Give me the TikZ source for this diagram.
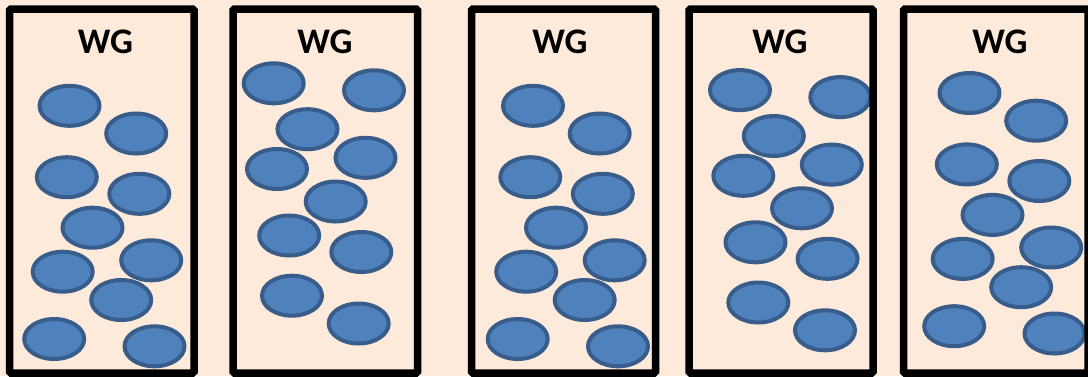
\documentclass[tikz,border=0pt]{standalone}
\usepackage{fontspec}
\setmainfont{Carlito}
\definecolor{bgpeach}{HTML}{FDEADA}
\definecolor{blobfill}{HTML}{4F81BD}
\definecolor{blobline}{HTML}{385D8A}
\begin{document}
\begin{tikzpicture}[x=1pt,y=-1pt,
  blob/.style={draw=blobline, fill=blobfill, line width=4pt},
  wgbox/.style={draw=black, line width=7.5pt, rounded corners=1.5pt},
  wglabel/.style={font=\bfseries\fontsize{36}{36}\selectfont, inner sep=0pt, anchor=base}]
\useasboundingbox (0,0) rectangle (1088,376);
\fill[bgpeach] (0,0) rectangle (1088,376);
% pattern A: boxes 1, 3, 5
\foreach \dx/\dy in {0/0, 463.5/0, 900/-12.8}{
  \foreach \x/\y in {69.5/105.8, 136.2/133.5, 66.8/177.2, 139.3/193.8, 92.5/227.7,
                     62.7/271.7, 151.2/260.3, 121.2/300, 54.2/339, 154.5/346.3}{
    \path[blob] (\x+\dx,\y+\dy) ellipse [x radius=30pt, y radius=20pt];
  }
}
% pattern B: boxes 2, 4
\foreach \dx/\dy in {0/0, 466.3/6.8}{
  \foreach \x/\y in {273.7/83.3, 374/90.3, 307.5/129.2, 365.5/157.8, 277/169,
                     335.7/201.5, 289.2/235.5, 361.3/252, 292/295.7, 358.7/323.5}{
    \path[blob] (\x+\dx,\y+\dy) ellipse [x radius=30pt, y radius=20pt];
  }
}
% boxes
\draw[wgbox] (9.5,9) rectangle (194,373);
\draw[wgbox] (233,9) rectangle (417.5,373);
\draw[wgbox] (471.5,9) rectangle (655.5,373);
\draw[wgbox] (689,9) rectangle (873,373);
\draw[wgbox] (903.5,9) rectangle (1088,373);
% labels
\node[wglabel] (wg1) at (105.5,53) {WG};
\node[wglabel] (wg2) at (325,53) {WG};
\node[wglabel] (wg3) at (560,53) {WG};
\node[wglabel] (wg4) at (780,53) {WG};
\node[wglabel] (wg5) at (1000,53) {WG};
\end{tikzpicture}
\end{document}
